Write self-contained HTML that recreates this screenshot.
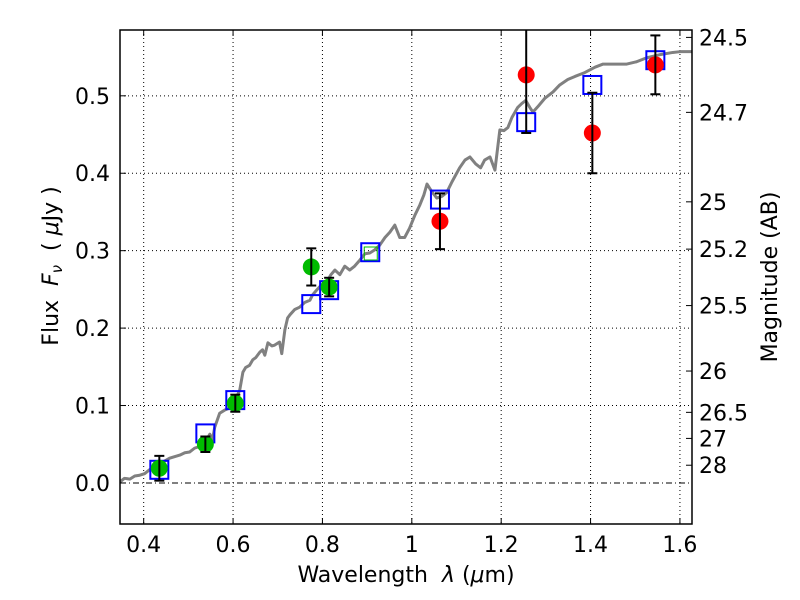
<!DOCTYPE html>
<html><head><meta charset="utf-8"><style>
html,body{margin:0;padding:0;background:#fff;overflow:hidden;width:800px;height:600px;}
svg{display:block;}
svg text{font-family:"DejaVu Sans","Liberation Sans",sans-serif;font-size:22px;fill:#000;}
</style></head><body>
<svg id="chart" width="800" height="600" viewBox="0 0 800 600">
<g id="grid"></g>
<g id="plot"></g>
<g id="axes"></g>
<text x="406" y="582" text-anchor="middle">Wavelength&#160;&#160;<tspan font-style="italic">λ</tspan> (<tspan font-style="italic">μ</tspan>m)</text>
<text transform="translate(58,266) rotate(-90)" text-anchor="middle">Flux&#160;&#160;<tspan font-style="italic">F</tspan><tspan font-style="italic" font-size="15" dy="4">ν</tspan><tspan dy="-4">&#160;&#160;(&#160;</tspan><tspan font-style="italic">μ</tspan>Jy )</text>
<text transform="translate(777,277) rotate(-90)" text-anchor="middle">Magnitude (AB)</text>
</svg>
<script>
const specWave=[0.346,0.357,0.369,0.380,0.391,0.402,0.413,0.429,0.443,0.458,0.469,0.481,0.492,0.503,0.514,0.525,0.537,0.548,0.554,0.559,0.570,0.581,0.593,0.604,0.608,0.615,0.622,0.628,0.637,0.644,0.651,0.660,0.666,0.671,0.678,0.687,0.693,0.704,0.709,0.716,0.722,0.727,0.738,0.749,0.760,0.772,0.778,0.787,0.798,0.810,0.819,0.828,0.839,0.850,0.861,0.872,0.884,0.895,0.906,0.917,0.928,0.940,0.951,0.962,0.973,0.984,0.995,1.007,1.018,1.027,1.034,1.045,1.056,1.067,1.078,1.090,1.107,1.119,1.130,1.143,1.154,1.163,1.175,1.186,1.197,1.206,1.215,1.224,1.237,1.246,1.255,1.264,1.271,1.282,1.298,1.316,1.331,1.349,1.365,1.387,1.410,1.428,1.481,1.503,1.525,1.554,1.584,1.600,1.627];
const specFlux=[0.001,0.006,0.005,0.009,0.010,0.012,0.017,0.023,0.027,0.032,0.034,0.036,0.039,0.040,0.045,0.047,0.052,0.063,0.056,0.072,0.090,0.094,0.097,0.102,0.111,0.120,0.143,0.149,0.152,0.159,0.162,0.169,0.172,0.165,0.181,0.177,0.178,0.182,0.167,0.198,0.213,0.217,0.224,0.227,0.233,0.236,0.243,0.249,0.256,0.260,0.269,0.275,0.269,0.280,0.275,0.280,0.288,0.296,0.297,0.301,0.307,0.317,0.324,0.333,0.317,0.317,0.329,0.346,0.359,0.372,0.386,0.376,0.368,0.370,0.375,0.389,0.407,0.417,0.421,0.412,0.407,0.417,0.421,0.404,0.456,0.455,0.459,0.472,0.485,0.490,0.494,0.485,0.479,0.486,0.497,0.505,0.514,0.521,0.525,0.530,0.537,0.541,0.541,0.544,0.549,0.553,0.556,0.557,0.557];
const greenWave=[0.435,0.538,0.605,0.775,0.815];
const greenFlux=[0.019,0.050,0.103,0.279,0.253];
const greenErr=[0.016,0.010,0.011,0.024,0.012];
const redWave=[1.063,1.256,1.404,1.545];
const redFlux=[0.338,0.527,0.452,0.540];
const redErr=[0.036,0.075,0.052,0.038];
const modelWave=[0.435,0.538,0.605,0.775,0.815,0.907,1.063,1.256,1.404,1.545];
const modelFlux=[0.017,0.064,0.107,0.231,0.249,0.298,0.366,0.466,0.514,0.546];
const extraWave=[0.907];
const extraFlux=[0.297];
const xTicks=[0.4,0.6,0.8,1.0,1.2,1.4,1.6];
const xTickLabels=["0.4","0.6","0.8","1","1.2","1.4","1.6"];
const yTicks=[0,0.1,0.2,0.3,0.4,0.5];
const yTickLabels=["0.0","0.1","0.2","0.3","0.4","0.5"];
const magTicks=[24.5,24.7,25,25.2,25.5,26,26.5,27,28];
const magLabels=["24.5","24.7","25","25.2","25.5","26","26.5","27","28"];

const L=120,R=692,T=30,B=524,xmin=0.347,xmax=1.627,ymin=-0.053,ymax=0.585;
const X=v=>L+(v-xmin)/(xmax-xmin)*(R-L);
const Y=v=>B-(v-ymin)/(ymax-ymin)*(B-T);
const NS="http://www.w3.org/2000/svg";
function mk(tag,parent,attrs){const e=document.createElementNS(NS,tag);for(const k in attrs)e.setAttribute(k,attrs[k]);parent.appendChild(e);return e;}
const grid=document.getElementById('grid'),plot=document.getElementById('plot'),axes=document.getElementById('axes');

xTicks.forEach(v=>{const l=mk('line',grid,{x1:X(v),x2:X(v),y1:T,y2:B,stroke:'#000','stroke-width':1,'stroke-dasharray':'1,3'});

});
yTicks.forEach(v=>{const l=mk('line',grid,{x1:L,x2:R,y1:Y(v),y2:Y(v),stroke:'#000','stroke-width':1,'stroke-dasharray':v===0?'6,3,1,3':'1,3'});

});

const cp=mk('clipPath',plot,{id:'cp'});mk('rect',cp,{x:L,y:T,width:R-L,height:B-T});
const pg=mk('g',plot,{'clip-path':'url(#cp)'});
const sp=mk('polyline',pg,{points:specWave.map((w,i)=>X(w)+','+Y(specFlux[i])).join(' '),fill:'none',stroke:'#808080','stroke-width':3,'stroke-linejoin':'round'});



modelWave.forEach((w,i)=>{const r=mk('rect',pg,{x:X(w)-9,y:Y(modelFlux[i])-9,width:18,height:18,fill:'none',stroke:'#0000ff','stroke-width':2});

});
extraWave.forEach((w,i)=>{const r=mk('rect',pg,{x:X(w)-6,y:Y(extraFlux[i])-6,width:13,height:13,fill:'none',stroke:'#00bb00','stroke-width':1});

});

function pts(ws,fs,es,col,name){ws.forEach((w,i)=>{
 const c=mk('circle',pg,{cx:X(w),cy:Y(fs[i]),r:8.5,fill:col});
 
 
 const g=mk('g',pg,{stroke:'#000','stroke-width':2});
 
 
 const y1=Y(fs[i]+es[i]),y2=Y(fs[i]-es[i]),x=X(w);
 mk('line',g,{x1:x,x2:x,y1:y1,y2:y2});mk('line',g,{x1:x-5,x2:x+5,y1:y1,y2:y1});mk('line',g,{x1:x-5,x2:x+5,y1:y2,y2:y2});
});}
pts(greenWave,greenFlux,greenErr,'#00bb00','ground-photometry-point');
pts(redWave,redFlux,redErr,'#ff0000','hst-photometry-point');

const fr=mk('rect',axes,{x:L,y:T,width:R-L,height:B-T,fill:'none',stroke:'#000','stroke-width':1.5});


xTicks.forEach((v,i)=>{const x=X(v);mk('line',axes,{x1:x,x2:x,y1:B,y2:B-6,stroke:'#000'});mk('line',axes,{x1:x,x2:x,y1:T,y2:T+6,stroke:'#000'});
 const t=mk('text',axes,{x:x,y:B+28,'text-anchor':'middle'});t.textContent=xTickLabels[i];
 
 });
yTicks.forEach((v,i)=>{const y=Y(v);mk('line',axes,{x1:L,x2:L+6,y1:y,y2:y,stroke:'#000'});
 const t=mk('text',axes,{x:L-10,y:y+8,'text-anchor':'end'});t.textContent=yTickLabels[i];
 
 });
magTicks.forEach((m,i)=>{const y=Y(Math.pow(10,(23.9-m)/2.5));mk('line',axes,{x1:R,x2:R-6,y1:y,y2:y,stroke:'#000'});
 const t=mk('text',axes,{x:R+7,y:y+8,'text-anchor':'start'});t.textContent=magLabels[i];
 
 });
</script>
</body></html>
